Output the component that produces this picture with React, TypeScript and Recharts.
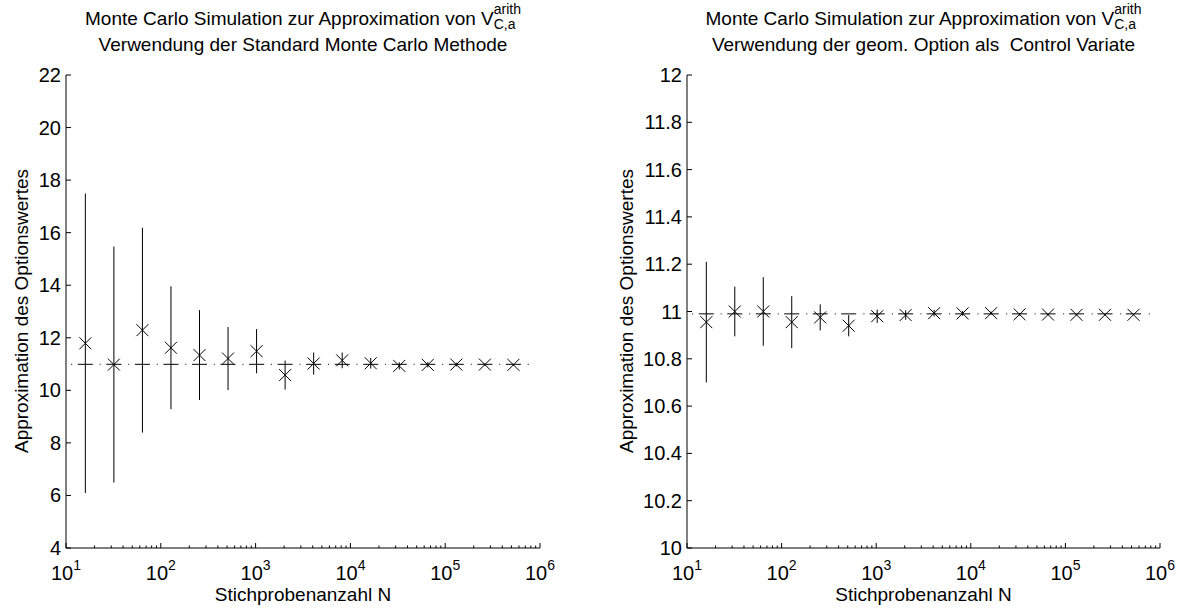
import React from 'react';
import { ScatterChart, Scatter, XAxis, YAxis, ErrorBar, ReferenceLine } from 'recharts';

// sample sizes N = 2^4 ... 2^19
const sampleSizes = [16, 32, 64, 128, 256, 512, 1024, 2048, 4096, 8192, 16384, 32768, 65536, 131072, 262144, 524288];
const trueValue = 10.99;

// standard Monte Carlo: estimate and half width of the confidence interval
const stdMean = [11.79, 10.98, 12.29, 11.62, 11.34, 11.21, 11.49, 10.58, 11.02, 11.14, 11.03, 10.93, 10.97, 10.98, 10.98, 10.97];
const stdErr = [5.7, 4.49, 3.9, 2.34, 1.71, 1.2, 0.84, 0.55, 0.42, 0.3, 0.2, 0.14, 0.1, 0.07, 0.05, 0.035];

// geometric option as control variate
const cvMean = [10.955, 11.0, 11.0, 10.955, 10.975, 10.94, 10.98, 10.985, 10.993, 10.992, 10.993, 10.988, 10.987, 10.986, 10.986, 10.986];
const cvErr = [0.255, 0.105, 0.145, 0.11, 0.055, 0.045, 0.028, 0.02, 0.014, 0.01, 0.007, 0.005, 0.0035, 0.0025, 0.0018, 0.0012];

const xMajor = [10, 100, 1000, 10000, 100000, 1000000];
const leftYTicks = [4, 6, 8, 10, 12, 14, 16, 18, 20, 22];
const rightYTicks = [10, 10.2, 10.4, 10.6, 10.8, 11, 11.2, 11.4, 11.6, 11.8, 12];

// log axis ticks: decades plus 2..9 in between
const xTicks: number[] = [];
xMajor.forEach((d, i) => {
  xTicks.push(d);
  if (i < xMajor.length - 1) for (let k = 2; k <= 9; k++) xTicks.push(d * k);
});

const FONT = '"Liberation Sans", Arial, Helvetica, sans-serif';
const AXIS_W = 60;
const AXIS_H = 30;

const XTick = ({ x, y, payload }: any) => {
  const v = payload.value;
  const exp = Math.round(Math.log10(v));
  const major = Math.abs(Math.pow(10, exp) - v) < 1e-6 * v;
  if (!major) return <line x1={x} y1={y} x2={x} y2={y - 2.5} stroke="#000" strokeWidth={1} />;
  return (
    <g>
      <line x1={x} y1={y} x2={x} y2={y - 5} stroke="#000" strokeWidth={1} />
      <text x={x} y={y + 32} textAnchor="middle" fontSize={20} fontFamily={FONT} fill="#000">
        <tspan>10</tspan>
        <tspan dy={-10} fontSize={14}>{exp}</tspan>
      </text>
    </g>
  );
};

const YTick = ({ x, y, payload }: any) => (
  <g>
    <line x1={x} y1={y} x2={x + 5} y2={y} stroke="#000" strokeWidth={1} />
    <text x={x - 5} y={y} dy={7} textAnchor="end" fontSize={20} fontFamily={FONT} fill="#000">
      {String(Number(payload.value.toFixed(1)))}
    </text>
  </g>
);

const Cross = (props: any) => {
  const { cx, cy } = props;
  const r = 6;
  return (
    <path
      d={`M${cx - r},${cy - r}L${cx + r},${cy + r}M${cx - r},${cy + r}L${cx + r},${cy - r}`}
      stroke="#000"
      strokeWidth={1}
      fill="none"
    />
  );
};

const RefDash = (props: any) => {
  const { cx, cy } = props;
  return <line x1={cx - 7.5} y1={cy} x2={cx + 7.5} y2={cy} stroke="#000" strokeWidth={1} />;
};

interface PanelProps {
  mean: number[];
  err: number[];
  yDomain: [number, number];
  yTicks: number[];
  subtitle: string;
  offsetX: number;
  width: number;
  plotLeft: number;
  marginRight: number;
  labelX: number;
}

const Panel = ({ mean, err, yDomain, yTicks, subtitle, offsetX, width, plotLeft, marginRight, labelX }: PanelProps) => {
  const points = sampleSizes.map((n, i) => ({ N: n, v: mean[i], e: err[i] }));
  const refPoints = sampleSizes.map((n) => ({ N: n, v: trueValue }));
  const plotCenter = plotLeft + (width - plotLeft - marginRight) / 2;
  return (
    <div style={{ position: 'absolute', left: offsetX, top: 0, width, height: 610, fontFamily: FONT, color: '#000' }}>
      <div style={{ position: 'absolute', left: plotCenter - 300, width: 600, top: 6, textAlign: 'center', fontSize: 19, lineHeight: '25px', whiteSpace: 'pre' }}>
        <div>
          Monte Carlo Simulation zur Approximation von V
          <span style={{ display: 'inline-block', verticalAlign: 'top', fontSize: 14, lineHeight: '15px', textAlign: 'left', marginTop: -4 }}>
            <span style={{ display: 'block' }}>arith</span>
            <span style={{ display: 'block' }}>C,a</span>
          </span>
        </div>
        <div>{subtitle}</div>
      </div>
      <div style={{ position: 'absolute', left: plotCenter - 200, width: 400, top: 584, textAlign: 'center', fontSize: 19, lineHeight: '22px' }}>
        Stichprobenanzahl N
      </div>
      <div
        style={{
          position: 'absolute',
          left: labelX - 200,
          top: 311 - 11,
          width: 400,
          textAlign: 'center',
          fontSize: 19,
          lineHeight: '22px',
          transform: 'rotate(-90deg)',
        }}
      >
        Approximation des Optionswertes
      </div>
      <ScatterChart width={width} height={610} margin={{ top: 75, right: marginRight, bottom: 62 - AXIS_H, left: plotLeft - AXIS_W }}>
        <XAxis
          dataKey="N"
          type="number"
          scale="log"
          domain={[10, 1000000]}
          ticks={xTicks}
          interval={0}
          allowDataOverflow
          height={AXIS_H}
          tickSize={0}
          tickMargin={0}
          tick={<XTick />}
          axisLine={{ stroke: '#000', strokeWidth: 1 }}
          tickLine={false}
        />
        <YAxis
          dataKey="v"
          type="number"
          domain={yDomain}
          ticks={yTicks}
          interval={0}
          allowDataOverflow
          width={AXIS_W}
          tickSize={0}
          tickMargin={0}
          tick={<YTick />}
          axisLine={{ stroke: '#000', strokeWidth: 1 }}
          tickLine={false}
        />
        <ReferenceLine y={trueValue} stroke="#000" strokeWidth={1} strokeDasharray="1 27.54" strokeDashoffset={23.4} />
        <Scatter data={refPoints} shape={<RefDash />} isAnimationActive={false} />
        <Scatter data={points} shape={<Cross />} isAnimationActive={false}>
          <ErrorBar dataKey="e" direction="y" width={0} stroke="#000" strokeWidth={1} isAnimationActive={false} />
        </Scatter>
      </ScatterChart>
    </div>
  );
};

export default function App() {
  return (
    <div style={{ position: 'absolute', left: 0, top: 0, width: 1179, height: 610, background: '#fff' }}>
      <Panel
        mean={stdMean}
        err={stdErr}
        yDomain={[4, 22]}
        yTicks={leftYTicks}
        subtitle="Verwendung der Standard Monte Carlo Methode"
        offsetX={0}
        width={590}
        plotLeft={66}
        marginRight={50}
        labelX={22}
      />
      <Panel
        mean={cvMean}
        err={cvErr}
        yDomain={[10, 12]}
        yTicks={rightYTicks}
        subtitle="Verwendung der geom. Option als  Control Variate"
        offsetX={590}
        width={589}
        plotLeft={97}
        marginRight={19}
        labelX={37}
      />
    </div>
  );
}
